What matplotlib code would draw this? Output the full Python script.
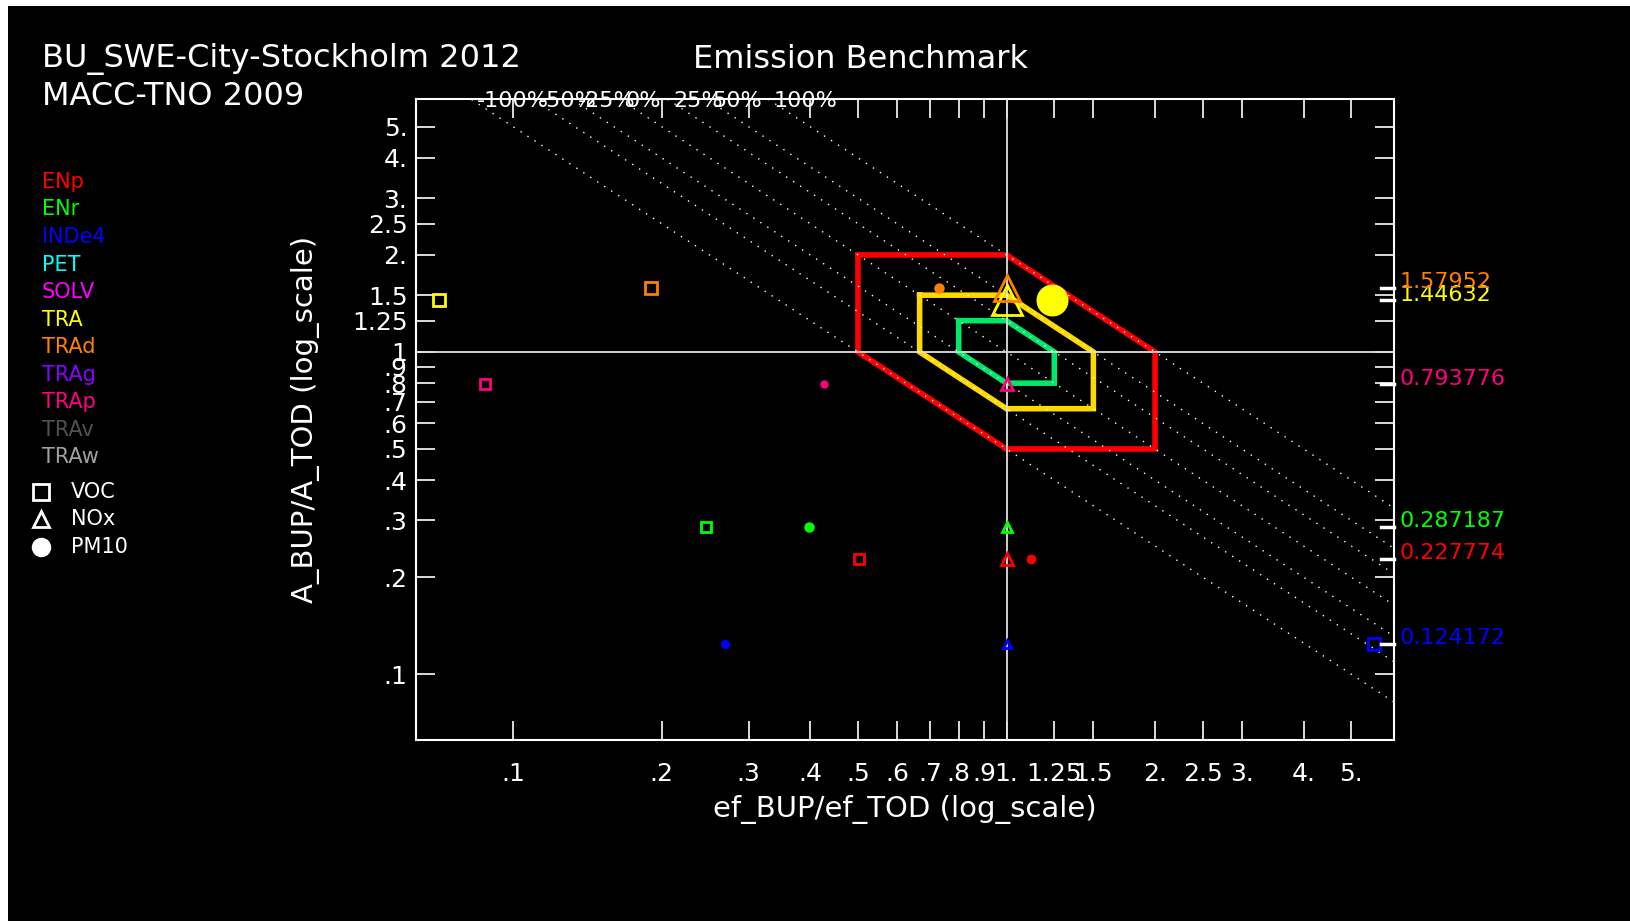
import matplotlib
matplotlib.use("Agg")
import numpy as np
import matplotlib.pyplot as plt
import matplotlib.transforms as mtransforms
from matplotlib.lines import Line2D
from matplotlib.patches import Rectangle

# Sectores dibujados y razon de areas A_BUP/A_TOD
sectors = ["TRA", "TRAd", "TRAp", "ENr", "ENp", "INDe4"]
area_ratio = [1.44632, 1.57952, 0.793776, 0.287187, 0.227774, 0.124172]

# Razon de factores de emision ef_BUP/ef_TOD por contaminante
ef_voc = [0.0709, 0.1905, 0.0878, 0.246, 0.502, 5.56]
ef_nox = [1.0, 1.0, 1.0, 1.0, 1.0, 1.0]
ef_pm10 = [1.236, 0.73, 0.426, 0.398, 1.12, 0.269]

# Leyenda de sectores
legend_names = ["ENp", "ENr", "INDe4", "PET", "SOLV", "TRA", "TRAd",
                "TRAg", "TRAp", "TRAv", "TRAw"]
legend_colors = ["#ff0000", "#00ff00", "#0000ff", "#00ffff", "#ff00ff",
                 "#ffff00", "#ff7f00", "#8a00ff", "#ff0080", "#505050",
                 "#a0a0a0"]
pollutants = ["VOC", "NOx", "PM10"]

# Lineas de emision constante x*y = k
pct_labels = ["-100%", "-50%", "-25%", "0%", "25%", "50%", "100%"]
pct_k = [0.5, 1 / 1.5, 0.8, 1.0, 1.25, 1.5, 2.0]

# Poligonos de referencia
box_levels = [2.0, 1.5, 1.25]
box_colors = ["#ff0000", "#ffd800", "#00e868"]

ticks = [.1, .2, .3, .4, .5, .6, .7, .8, .9, 1, 1.25, 1.5, 2, 2.5, 3, 4, 5]
xticklabels = [".1", ".2", ".3", ".4", ".5", ".6", ".7", ".8", ".9", "1.",
               "1.25", "1.5", "2.", "2.5", "3.", "4.", "5."]
yticklabels = [".1", ".2", ".3", ".4", ".5", ".6", ".7", ".8", ".9", "1",
               "1.25", "1.5", "2.", "2.5", "3.", "4.", "5."]

# tamanos de marcadores (pt)
size_voc = [8.5, 8, 7.5, 7, 7, 8.5]
size_nox = [21, 19, 8.5, 7, 9, 6]
size_pm10 = [22, 6.5, 5, 6.5, 6, 5.5]

xmin, xmax = 0.0635, 6.1
ymin, ymax = 0.0625, 6.1

color_of = dict(zip(legend_names, legend_colors))

fig = plt.figure(figsize=(16.3, 9.21), dpi=100)
fig.patch.set_facecolor("white")
fig.add_artist(Rectangle((8 / 1630, 0), 1, 1 - 6 / 921, transform=fig.transFigure,
                         facecolor="black", edgecolor="none", zorder=-10))

ax = fig.add_axes([0.2551, 0.1965, 0.8552 - 0.2551, 0.8927 - 0.1965])
ax.set_facecolor("black")
ax.set_xscale("log")
ax.set_yscale("log")
ax.set_xlim(xmin, xmax)
ax.set_ylim(ymin, ymax)

# poligonos
for lev, col in zip(box_levels, box_colors):
    px = [1 / lev, 1, lev, lev, 1, 1 / lev, 1 / lev]
    py = [lev, lev, 1, 1 / lev, 1 / lev, 1, lev]
    ax.plot(px, py, color=col, lw=4, zorder=2, solid_joinstyle="miter")

# cruz central
ax.axhline(1, color="#e0e0e0", lw=1.3, zorder=3)
ax.axvline(1, color="#e0e0e0", lw=1.3, zorder=3)

# lineas punteadas de porcentaje
xs = np.logspace(np.log10(xmin), np.log10(xmax), 300)
for k, lab in zip(pct_k, pct_labels):
    ax.plot(xs, k / xs, color="white", lw=1, ls=(0, (1, 5)), zorder=4)
    ax.text(k / ymax * 1.03, ymax * 0.985, lab, color="white", fontsize=16,
            ha="left", va="center", zorder=6, clip_on=False)

# puntos
for i, s in enumerate(sectors):
    c = color_of[s]
    y = area_ratio[i]
    ax.plot(ef_voc[i], y, marker="s", ms=size_voc[i], mfc="none", mec=c,
            mew=2, ls="none", zorder=5)
    ax.plot(ef_nox[i], y, marker="^", ms=size_nox[i], mfc="none", mec=c,
            mew=2, ls="none", zorder=5)
    ax.plot(ef_pm10[i], y, marker="o", ms=size_pm10[i], mfc=c, mec=c,
            ls="none", zorder=5)

# marcas y etiquetas a la derecha
blend = mtransforms.blended_transform_factory(ax.transAxes, ax.transData)
for s, v in zip(sectors, area_ratio):
    ax.plot([0.987, 1.0], [v, v], color="white", lw=2.5, transform=blend,
            clip_on=False, zorder=6)
    ax.annotate(str(v), xy=(1.0, v), xycoords=blend, xytext=(4, 4),
                textcoords="offset points", color=color_of[s], fontsize=16,
                ha="left", va="center", annotation_clip=False)

ax.set_xticks(ticks)
ax.set_xticklabels(xticklabels)
ax.set_yticks(ticks)
ax.set_yticklabels(yticklabels)
ax.xaxis.set_minor_locator(matplotlib.ticker.NullLocator())
ax.yaxis.set_minor_locator(matplotlib.ticker.NullLocator())
ax.tick_params(axis="both", which="major", direction="in", length=14, width=1.2,
               color="white", labelcolor="white", labelsize=18,
               top=True, right=True)
ax.tick_params(axis="x", pad=16)
ax.tick_params(axis="y", pad=6)
for sp in ax.spines.values():
    sp.set_color("white")
    sp.set_linewidth(1.5)

ax.set_xlabel("ef_BUP/ef_TOD (log_scale)", color="white", fontsize=21)
ax.set_ylabel("A_BUP/A_TOD (log_scale)", color="white", fontsize=21)
ax.xaxis.set_label_coords(0.5, -0.085)
ax.yaxis.set_label_coords(-0.098, 0.5)

# titulos
fig.text(0.0255, 0.9356, "BU_SWE-City-Stockholm 2012", color="white",
         fontsize=23, ha="left", va="center")
fig.text(0.0255, 0.895, "MACC-TNO 2009", color="white", fontsize=23,
         ha="left", va="center")
fig.text(0.528, 0.9356, "Emission Benchmark", color="white", fontsize=23,
         ha="center", va="center")

# leyenda de sectores
for i, (n, c) in enumerate(zip(legend_names, legend_colors)):
    fig.text(0.0255, 0.8025 - i * 0.0299, n, color=c, fontsize=15,
             ha="left", va="center")

# leyenda de contaminantes
for i, (p, m) in enumerate(zip(pollutants, ["s", "^", "o"])):
    yy = 0.4661 - i * 0.0299
    fill = "white" if m == "o" else "none"
    fig.add_artist(Line2D([0.0249], [yy], marker=m, ms=12, mfc=fill, mec="white",
                          mew=2, ls="none", transform=fig.transFigure))
    fig.text(0.0434, yy, p, color="white", fontsize=15, ha="left", va="center")

fig.savefig("out.png", dpi=100, facecolor=fig.get_facecolor())
